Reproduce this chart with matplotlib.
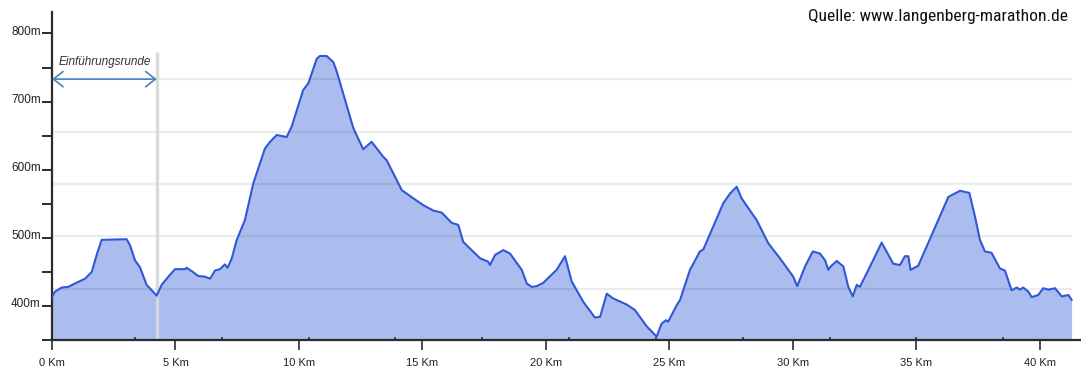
import matplotlib
matplotlib.use("Agg")
import matplotlib.pyplot as plt
from matplotlib import font_manager
from matplotlib.transforms import ScaledTranslation
from matplotlib.patches import FancyArrowPatch

# ---- data ----
km = [0.00, 0.12, 0.39, 0.66, 0.93, 1.34, 1.61, 1.81, 2.01, 3.02, 3.16, 3.36, 3.56, 3.83, 4.04,
      4.24, 4.44, 4.71, 4.98, 5.38, 5.45, 5.66, 5.92, 6.19, 6.40, 6.60, 6.80, 7.00, 7.11, 7.28,
      7.48, 7.81, 8.15, 8.62, 8.83, 9.10, 9.50, 9.70, 10.17, 10.38, 10.72, 10.85, 11.12, 11.39,
      11.53, 12.20, 12.60, 12.94, 13.41, 13.55, 14.16, 14.63, 15.03, 15.44, 15.78, 16.18, 16.45,
      16.65, 17.33, 17.66, 17.73, 17.94, 18.27, 18.54, 19.02, 19.22, 19.42, 19.62, 19.89, 20.43,
      20.77, 21.04, 21.51, 21.98, 22.19, 22.46, 22.72, 23.27, 23.60, 24.08, 24.48, 24.68, 24.86,
      24.95, 25.29, 25.43, 25.83, 26.23, 26.37, 27.18, 27.45, 27.72, 27.92, 28.53, 29.00, 29.47,
      30.01, 30.17, 30.49, 30.80, 31.09, 31.30, 31.43, 31.53, 31.77, 32.04, 32.24, 32.42, 32.58,
      32.71, 33.12, 33.59, 34.06, 34.33, 34.53, 34.67, 34.76, 35.07, 35.82, 36.29, 36.76, 37.14,
      37.37, 37.57, 37.77, 38.04, 38.38, 38.58, 38.85, 39.06, 39.19, 39.32, 39.53, 39.66, 39.93,
      40.13, 40.34, 40.61, 40.88, 41.15, 41.28]
elev = [413, 421, 427, 428, 433, 440, 450, 475, 497, 498, 489, 467, 457, 431, 423,
        415, 431, 443, 454, 454, 456, 451, 444, 443, 440, 452, 454, 461, 456, 470,
        497, 526, 580, 631, 641, 651, 648, 663, 717, 727, 763, 767, 767, 758,
        744, 661, 630, 641, 619, 614, 570, 558, 548, 540, 537, 522, 519,
        494, 470, 465, 460, 475, 482, 477, 453, 433, 428, 429, 434, 453,
        473, 436, 406, 383, 384, 418, 411, 402, 394, 370, 355, 374, 379,
        377, 401, 409, 453, 480, 483, 551, 565, 575, 558, 526, 492, 470,
        443, 429, 458, 480, 477, 467, 453, 458, 466, 458, 428, 414, 431,
        428, 458, 493, 462, 460, 473, 473, 453, 459, 521, 560, 569, 566,
        531, 497, 480, 478, 455, 452, 423, 427, 424, 427, 421, 413, 416,
        426, 424, 426, 414, 416, 409]

x_major = [0, 5, 10, 15, 20, 25, 30, 35, 40]
x_labels = ["0 Km", "5 Km", "10 Km", "15 Km", "20 Km", "25 Km", "30 Km", "35 Km", "40 Km"]
x_minor = [3.36, 6.87, 10.39, 13.90, 17.42, 20.93, 24.45, 27.96, 31.48, 34.99, 38.51]
y_major = [400, 500, 600, 700, 800]
y_labels = ["400m", "500m", "600m", "700m", "800m"]
y_minor = [350, 450, 550, 650, 750]
grid_levels = [425, 502, 579, 656, 733]
intro_km = 4.24
intro_label = "Einführungsrunde"
source_text = "Quelle: www.langenberg-marathon.de"

# ---- pick a condensed face for the source note, if one is installed ----
installed = {f.name for f in font_manager.fontManager.ttflist}
narrow = None
for cand in ["Liberation Sans Narrow", "Roboto Condensed", "Open Sans Condensed",
             "DejaVu Sans Condensed", "Arial Narrow", "Noto Sans Condensed"]:
    if cand in installed:
        narrow = cand
        break
src_stretch = "normal"
if narrow is None:
    narrow_family = ["DejaVu Sans"]
    src_stretch = "condensed"
    src_size = 12.0
else:
    narrow_family = [narrow, "DejaVu Sans"]
    src_size = 12.6

# ---- figure ----
W, H, DPI = 1081, 381, 100
fig = plt.figure(figsize=(W / DPI, H / DPI), dpi=DPI)
ax = fig.add_axes([52 / W, 41 / H, 1028 / W, 328.3 / H])
ax.set_xlim(0, 41.62)
ax.set_ylim(350, 832)

line_col = "#2f57d6"
fill_col = "#aabdee"

ax.fill_between(km, elev, 350, color=fill_col, lw=0, zorder=1)
ax.hlines(grid_levels, 0, km[-1], colors="black", alpha=0.075, lw=1.6, zorder=2)
ax.vlines(intro_km, 350, 773, colors="#d9d9d9", lw=2.4, alpha=0.95, zorder=2.5)
ax.plot(km, elev, color=line_col, lw=1.5, zorder=3, solid_joinstyle="round")

arr = FancyArrowPatch((0, 733), (intro_km, 733), arrowstyle="<->,head_length=0.7,head_width=0.55",
                      mutation_scale=10, color="#4f7fc0", lw=1.2, zorder=4, shrinkA=0, shrinkB=0)
ax.add_patch(arr)
ax.text(intro_km / 2, 758.5, intro_label, ha="center", va="center", fontsize=8.5,
        style="italic", family=["Liberation Sans", "DejaVu Sans"], color="#333333", zorder=4)

fig.text(1068 / W, 1 - 16 / H, source_text, ha="right", va="center", fontsize=src_size,
         family=narrow_family, fontstretch=src_stretch, color="#111111")

for s in ("top", "right"):
    ax.spines[s].set_visible(False)
for s in ("left", "bottom"):
    ax.spines[s].set_color("#2b2b2b")
    ax.spines[s].set_linewidth(1.6)

ax.set_xticks(x_major)
ax.set_xticklabels(x_labels)
ax.set_xticks(x_minor, minor=True)
ax.set_yticks(y_major)
ax.set_yticklabels(y_labels)
ax.set_yticks(y_minor, minor=True)
ax.tick_params(axis="x", which="major", direction="out", length=7.2, width=1.2, pad=5.5,
               colors="#2b2b2b", labelsize=8, labelcolor="#222222")
ax.tick_params(axis="x", which="minor", direction="in", length=2.5, width=1.2, colors="#2b2b2b")
ax.tick_params(axis="y", which="both", direction="out", length=7.2, width=1.4, pad=0.8,
               colors="#2b2b2b", labelsize=8.5, labelcolor="#222222")
for lab in ax.get_xticklabels() + ax.get_yticklabels():
    lab.set_family(["Liberation Sans", "DejaVu Sans"])
off = ScaledTranslation(0, 3 / DPI, fig.dpi_scale_trans)
for lab in ax.get_yticklabels():
    lab.set_transform(lab.get_transform() + off)

fig.savefig("out.png", dpi=DPI, facecolor="white")
